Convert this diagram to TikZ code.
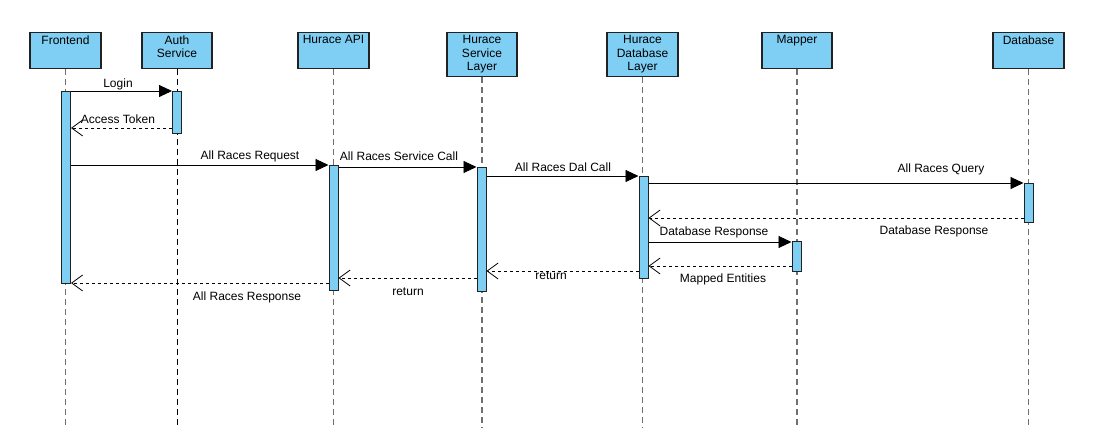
\documentclass[tikz,border=0pt]{standalone}
\usepackage{fontspec}
\setmainfont{Liberation Sans}
\usetikzlibrary{arrows.meta}
\definecolor{fillb}{HTML}{7FCEF4}
\definecolor{lifeg}{HTML}{707070}
\definecolor{edge}{HTML}{222222}
\begin{document}
\begin{tikzpicture}[x=1pt,y=-1pt,
  font=\fontsize{12}{13.5}\selectfont,
  head/.style={draw=edge,fill=fillb,line width=1.3pt,minimum width=#1,inner sep=0pt,anchor=north},
  headtxt/.style={anchor=north,align=center,inner sep=0pt},
  life/.style={draw=lifeg,line width=1.9pt,dash pattern=on 6pt off 4pt},
  lifek/.style={draw=black,line width=0.9pt,dash pattern=on 6pt off 4pt},
  act/.style={draw=edge,fill=fillb,line width=1pt,minimum width=9pt,inner sep=0pt,anchor=north},
  msg/.style={draw=black,line width=0.9pt,-{Triangle[length=13pt,width=12pt]}},
  ret/.style={draw=black,line width=0.8pt,dash pattern=on 3pt off 3pt,-{Straight Barb[length=11pt,width=16pt,line width=0.8pt]}},
  lbl/.style={inner sep=0pt}
]
\useasboundingbox (0,0) rectangle (1100,446);
\fill[white] (0,0) rectangle (1100,446);

% end points of lifelines
\coordinate (endy) at (0,428);

% headers
\node[head=71pt,minimum height=36pt] (hfe) at (65.5,32) {};
\node[head=70pt,minimum height=36pt] (has) at (177,32) {};
\node[head=71pt,minimum height=36pt] (hapi) at (333.5,32) {};
\node[head=70pt,minimum height=44pt] (hsl) at (482,32) {};
\node[head=71pt,minimum height=44pt] (hdl) at (642.5,32) {};
\node[head=70pt,minimum height=36pt] (hmap) at (797,32) {};
\node[head=71pt,minimum height=36pt] (hdb) at (1028.5,32) {};

\node[headtxt] (tfe) at ([yshift=-3.5pt]hfe.north) {Frontend};
\node[headtxt] (tas) at ([yshift=-3.5pt]has.north) {Auth\\Service};
\node[headtxt] (tapi) at ([yshift=-3.5pt]hapi.north) {Hurace API};
\node[headtxt] (tsl) at ([yshift=-3.5pt]hsl.north) {Hurace\\Service\\Layer};
\node[headtxt] (tdl) at ([yshift=-3.5pt]hdl.north) {Hurace\\Database\\Layer};
\node[headtxt] (tmap) at ([yshift=-3.5pt]hmap.north) {Mapper};
\node[headtxt] (tdb) at ([yshift=-3.5pt]hdb.north) {Database};

% lifelines
\draw[life] (hfe.south) -- (hfe.south |- endy);
\draw[lifek] (has.south) -- (has.south |- endy);
\draw[life] (hapi.south) -- (hapi.south |- endy);
\draw[life] (hsl.south) -- (hsl.south |- endy);
\draw[life] (hdl.south) -- (hdl.south |- endy);
\draw[life] (hmap.south) -- (hmap.south |- endy);
\draw[life] (hdb.south) -- (hdb.south |- endy);

% activations
\node[act,minimum height=192pt] (afe) at (66,91) {};
\node[act,minimum height=42pt] (aas) at (177,91) {};
\node[act,minimum height=125pt] (aapi) at (333.5,165) {};
\node[act,minimum height=124pt] (asl) at (481.5,167) {};
\node[act,minimum height=102pt] (adl) at (643.5,176) {};
\node[act,minimum height=30pt] (amap) at (796.5,241) {};
\node[act,minimum height=39pt] (adb) at (1028.5,183) {};

% messages
\draw[msg] (afe.east |- 0,91) -- (aas.west |- 0,91);
\node[lbl] (l1) at (118,84) {Login};
\draw[ret] (aas.west |- 0,128) -- (afe.east |- 0,128);
\node[lbl] (l2) at (118,119) {Access Token};
\draw[msg] (afe.east |- 0,165) -- (aapi.west |- 0,165);
\node[lbl] (l3) at (250,156) {All Races Request};
\draw[msg] (aapi.east |- 0,167) -- (asl.west |- 0,167);
\node[lbl] (l4) at (399,156) {All Races Service Call};
\draw[msg] (asl.east |- 0,176) -- (adl.west |- 0,176);
\node[lbl] (l5) at (563,167) {All Races Dal Call};
\draw[msg] (adl.east |- 0,183) -- (adb.west |- 0,183);
\node[lbl] (l6) at (941,169) {All Races Query};
\draw[ret] (adb.west |- 0,218) -- (adl.east |- 0,218);
\node[lbl] (l7) at (934,231) {Database Response};
\draw[msg] (adl.east |- 0,242) -- (amap.west |- 0,242);
\node[lbl] (l8) at (714,232) {Database Response};
\draw[ret] (amap.west |- 0,266) -- (adl.east |- 0,266);
\node[lbl] (l9) at (723,279) {Mapped Entities};
\draw[ret] (adl.west |- 0,271) -- (asl.east |- 0,271);
\node[lbl] (l10) at (551,276) {return};
\draw[ret] (asl.west |- 0,278) -- (aapi.east |- 0,278);
\node[lbl] (l11) at (408,292) {return};
\draw[ret] (aapi.west |- 0,283) -- (afe.east |- 0,283);
\node[lbl] (l12) at (247,297) {All Races Response};
\end{tikzpicture}
\end{document}
